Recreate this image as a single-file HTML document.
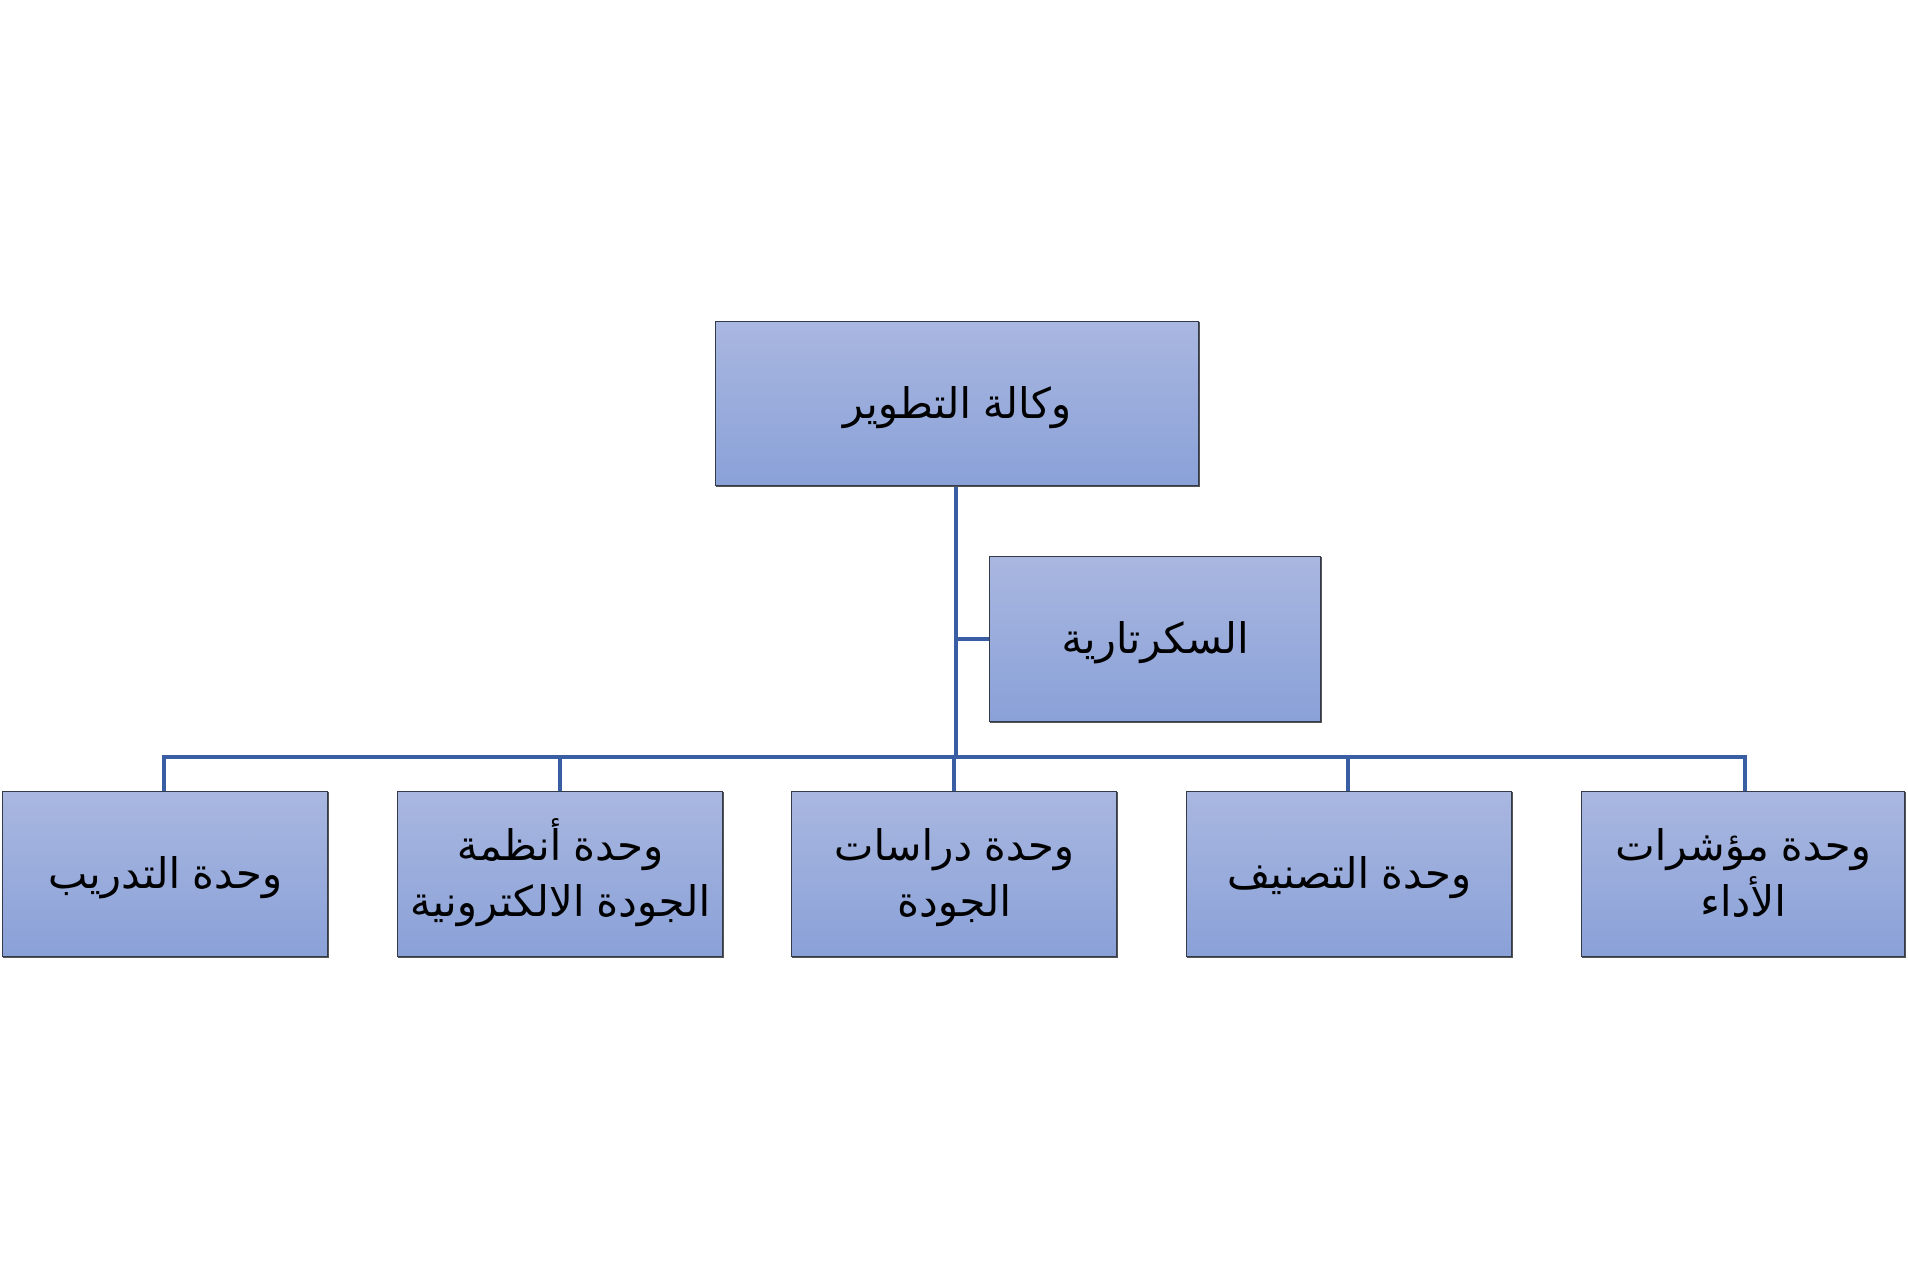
<!DOCTYPE html>
<html><head><meta charset="utf-8"><style>
body{margin:0;width:1908px;height:1279px;background:#fff;position:relative;overflow:hidden;font-family:"Liberation Sans","DejaVu Sans",sans-serif;}
.b{position:absolute;box-sizing:border-box;border:1.5px solid #333a4a;background:linear-gradient(#a9b7e0,#8aa1d8);display:flex;align-items:center;justify-content:center;text-align:center;direction:rtl;font-size:42px;line-height:56px;color:#000;box-shadow:1px 1px 0 #555;white-space:nowrap;}
.l{position:absolute;background:#3a5ea3;}
</style></head><body>
<div class="l" style="left:954px;top:486px;width:4px;height:273px"></div>
<div class="l" style="left:956px;top:637px;width:33px;height:4px"></div>
<div class="l" style="left:162px;top:755px;width:1585px;height:4px"></div>
<div class="l" style="left:162px;top:755px;width:4px;height:36px"></div>
<div class="l" style="left:558px;top:755px;width:4px;height:36px"></div>
<div class="l" style="left:952px;top:755px;width:4px;height:36px"></div>
<div class="l" style="left:1346px;top:755px;width:4px;height:36px"></div>
<div class="l" style="left:1743px;top:755px;width:4px;height:36px"></div>
<div class="b" style="left:715px;top:321px;width:484px;height:165px">وكالة التطوير</div>
<div class="b" style="left:989px;top:556px;width:332px;height:166px">السكرتارية</div>
<div class="b" style="left:2px;top:791px;width:326px;height:166px">وحدة التدريب</div>
<div class="b" style="left:397px;top:791px;width:326px;height:166px">وحدة أنظمة<br>الجودة الالكترونية</div>
<div class="b" style="left:791px;top:791px;width:326px;height:166px">وحدة دراسات<br>الجودة</div>
<div class="b" style="left:1186px;top:791px;width:326px;height:166px">وحدة التصنيف</div>
<div class="b" style="left:1581px;top:791px;width:324px;height:166px">وحدة مؤشرات<br>الأداء</div>
</body></html>
